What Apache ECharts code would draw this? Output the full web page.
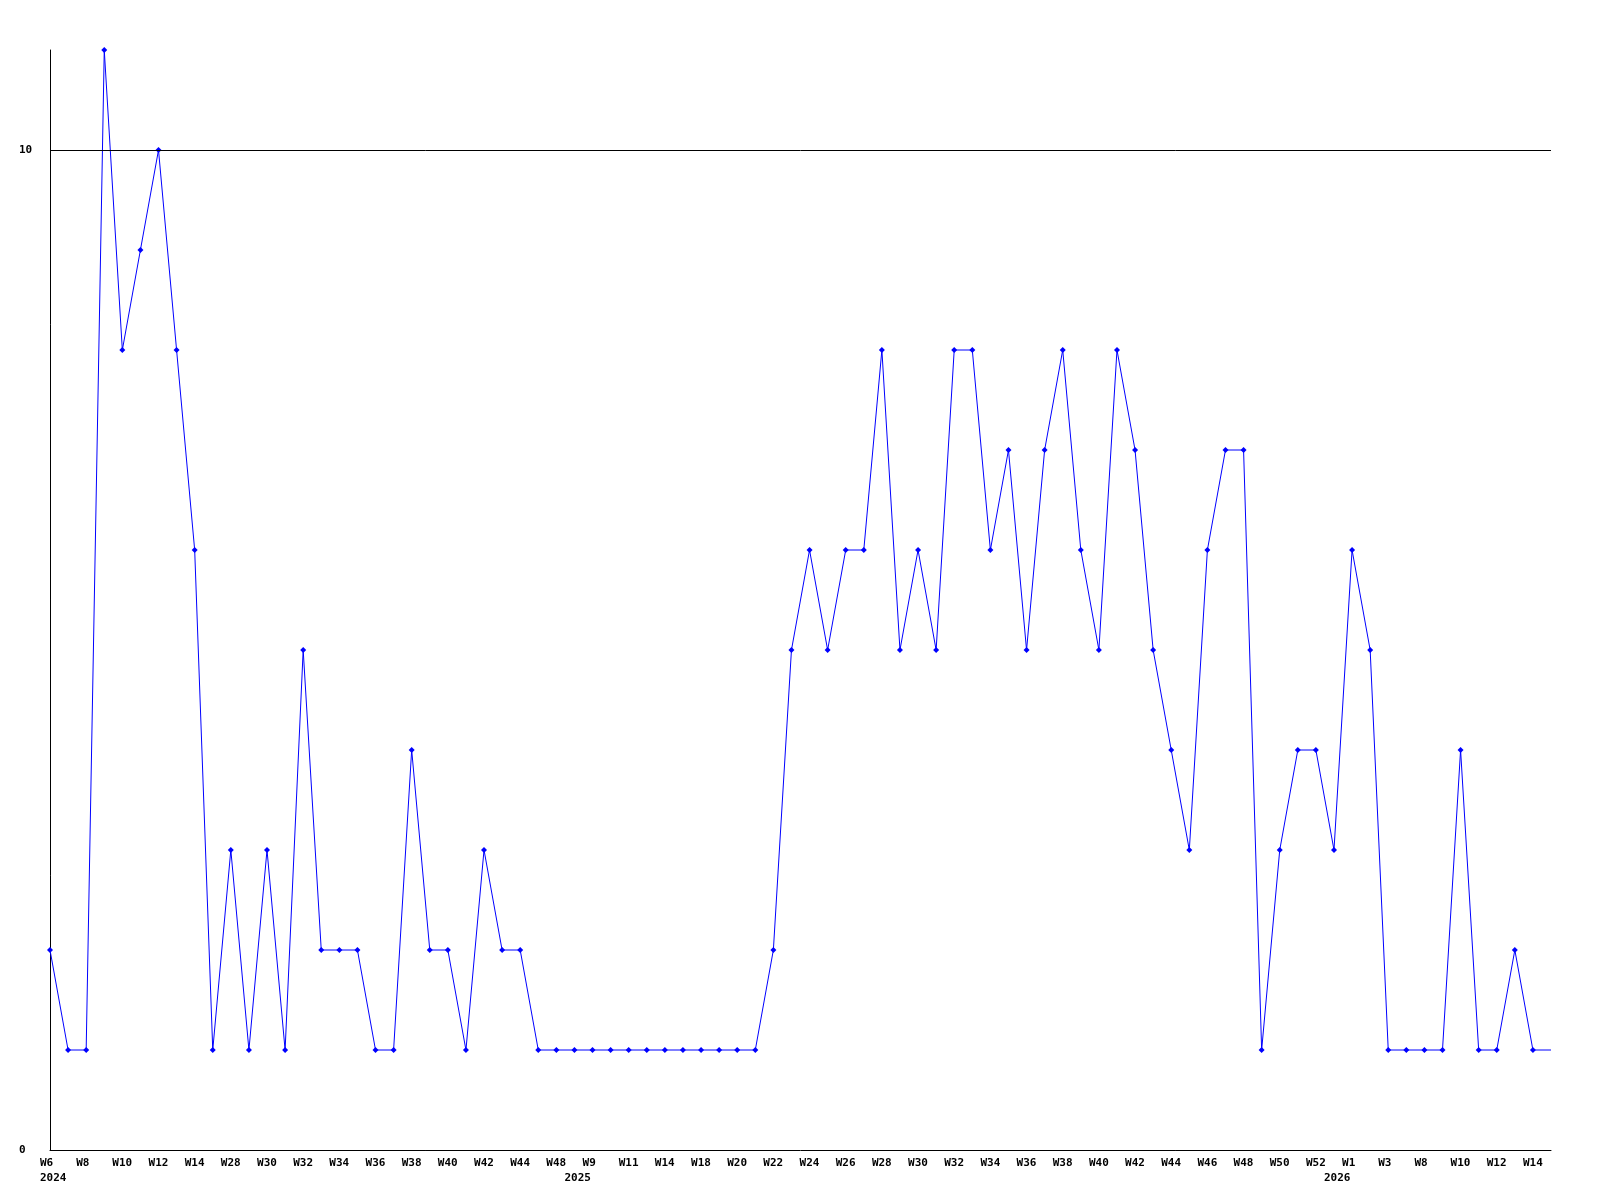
<!DOCTYPE html>
<html>
<head>
<meta charset="utf-8">
<script src="https://cdn.jsdelivr.net/npm/echarts@6/dist/echarts.min.js"></script>
<style>
html,body{margin:0;padding:0;background:#fff;}
#chart{width:1600px;height:1200px;}
</style>
</head>
<body>
<div id="chart"></div>
<script>
// Week categories (odd-index names are not printed in the reference; guessed)
const categories = [
  'W6','W7','W8','W9','W10','W11','W12','W13','W14','W27',
  'W28','W29','W30','W31','W32','W33','W34','W35','W36','W37',
  'W38','W39','W40','W41','W42','W43','W44','W47','W48','W8',
  'W9','W10','W11','W13','W14','W17','W18','W19','W20','W21',
  'W22','W23','W24','W25','W26','W27','W28','W29','W30','W31',
  'W32','W33','W34','W35','W36','W37','W38','W39','W40','W41',
  'W42','W43','W44','W45','W46','W47','W48','W49','W50','W51',
  'W52','W53','W1','W2','W3','W7','W8','W9','W10','W11',
  'W12','W13','W14','W15'
];
// Year captions under the axis: category index -> year
const yearIndex = [0, 29, 71];
const yearText = ['2024', '2025', '2026'];
// Series values (last value only continues the line to the axis end)
const values = [
  2,1,1,11,8,9,10,8,6,1,
  3,1,3,1,5,2,2,2,1,1,
  4,2,2,1,3,2,2,1,1,1,
  1,1,1,1,1,1,1,1,1,1,
  2,5,6,5,6,6,8,5,6,5,
  8,8,6,7,5,7,8,6,5,8,
  7,5,4,3,6,7,7,1,3,4,
  4,3,6,5,1,1,1,1,4,1,
  1,2,1,1
];
const yTickLabels = [0, 10];

const font = '"DejaVu Sans Mono", monospace';
const seriesData = values.map((v, i) =>
  i === values.length - 1 ? { value: v, symbol: 'none' } : v
);

const chart = echarts.init(document.getElementById('chart'));
chart.setOption({
  animation: false,
  backgroundColor: '#ffffff',
  grid: { left: 50, right: 49, top: 50, bottom: 50 },
  xAxis: {
    type: 'category',
    data: categories,
    boundaryGap: false,
    axisLine: { show: true, lineStyle: { color: '#000', width: 1 } },
    axisTick: { show: false },
    splitLine: { show: false },
    axisLabel: {
      interval: 0,
      margin: 6,
      align: 'center',
      formatter: function (val, idx) {
        const yi = yearIndex.indexOf(idx);
        const wk = (idx % 2 === 0 && idx < values.length - 1) ? val : ' ';
        let s = '{w|' + wk + '}';
        if (yi >= 0) s += '\n{y|' + yearText[yi] + '}';
        return s;
      },
      rich: {
        w: { width: 20, align: 'left', fontFamily: font, fontWeight: 'bold', fontSize: 11, color: '#000', lineHeight: 15 },
        y: { width: 20, align: 'left', fontFamily: font, fontWeight: 'bold', fontSize: 11, color: '#000', lineHeight: 15 }
      }
    }
  },
  yAxis: {
    type: 'value',
    min: 0,
    max: 11,
    interval: 10,
    axisLine: { show: true, lineStyle: { color: '#000', width: 1 } },
    axisTick: { show: false },
    splitLine: { show: false },
    axisLabel: {
      align: 'left',
      margin: 31,
      fontFamily: font,
      fontWeight: 'bold',
      fontSize: 11,
      color: '#000',
      showMaxLabel: false,
      formatter: function (v) { return yTickLabels.indexOf(v) >= 0 ? String(v) : ''; }
    }
  },
  series: [{
    type: 'line',
    data: seriesData,
    symbol: 'diamond',
    symbolSize: 6,
    showAllSymbol: true,
    itemStyle: { color: '#0000ff' },
    lineStyle: { color: '#0000ff', width: 1 },
    markLine: {
      silent: true,
      symbol: 'none',
      label: { show: false },
      lineStyle: { color: '#000', width: 1, type: 'solid' },
      data: [{ yAxis: 10 }]
    }
  }]
});
</script>
</body>
</html>
